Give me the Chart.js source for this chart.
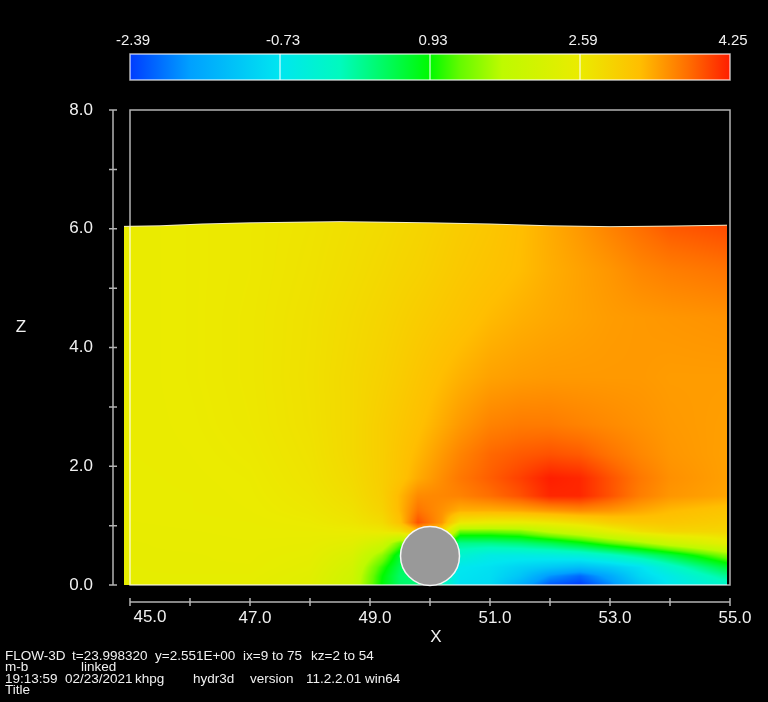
<!DOCTYPE html>
<html>
<head>
<meta charset="utf-8">
<title>FLOW-3D</title>
<script src="https://cdn.jsdelivr.net/npm/chart.js@4/dist/chart.umd.min.js"></script>
<style>
html, body { margin: 0; padding: 0; background: #000; }
canvas { display: block; }
</style>
</head>
<body>
<canvas id="myChart" width="768" height="702"></canvas>
<script>
// values
var colorbarLabels = [-2.39, -0.73, 0.93, 2.59, 4.25];

var surfaceX = [44.9, 45.5, 46.2, 47, 48.5, 50, 51, 52, 53, 54, 54.95];
var surfaceZ = [6.04, 6.05, 6.08, 6.10, 6.12, 6.10, 6.08, 6.05, 6.035, 6.045, 6.06];

var cylinderX = [50];
var cylinderZ = [0.49];

var gridX = [45, 46, 47, 48, 48.7, 49.2, 49.5, 49.8, 50.2, 50.5, 51, 51.5, 52, 52.5, 53, 53.5, 54, 55];
var gridZ = [0, 0.15, 0.3, 0.5, 0.7, 0.9, 1.05, 1.25, 1.5, 1.8, 2.2, 2.7, 3.5, 4.5, 5.3, 6.2];
var gridValues = [
  [2.48, 2.50, 2.48, 2.38, 2.00, 0.90, 0.40, 0.30, 0.00, -0.80, -0.90, -1.50, -2.20, -2.39, -1.90, -1.20, -0.70, -0.20],
  [2.50, 2.50, 2.50, 2.40, 2.05, 0.95, 0.40, 0.30, 0.00, -0.75, -0.85, -1.20, -1.80, -2.10, -1.60, -0.95, -0.60, 0.20],
  [2.50, 2.52, 2.52, 2.44, 2.12, 1.10, 0.50, 0.30, -0.30, -0.70, -0.80, -1.00, -1.15, -1.30, -1.10, -0.80, -0.25, 0.70],
  [2.52, 2.52, 2.53, 2.48, 2.25, 1.50, 0.70, 0.30, -0.30, -0.30, -0.55, -0.55, -0.50, -0.40, -0.15, 0.20, 0.60, 1.50],
  [2.52, 2.53, 2.54, 2.52, 2.42, 2.05, 1.30, 1.50, 1.50, 0.20, 0.20, 0.30, 0.50, 0.80, 1.20, 1.55, 1.95, 2.50],
  [2.53, 2.54, 2.55, 2.56, 2.58, 2.62, 2.75, 3.20, 3.00, 1.30, 1.30, 1.40, 1.80, 2.10, 2.45, 2.75, 2.90, 2.90],
  [2.54, 2.55, 2.56, 2.60, 2.68, 2.82, 3.20, 3.95, 3.50, 2.65, 2.55, 2.55, 2.65, 2.80, 3.00, 3.10, 3.12, 3.02],
  [2.55, 2.56, 2.58, 2.64, 2.74, 2.94, 3.30, 3.75, 3.55, 3.35, 3.35, 3.40, 3.50, 3.58, 3.52, 3.40, 3.28, 3.15],
  [2.55, 2.56, 2.59, 2.67, 2.80, 3.00, 3.30, 3.60, 3.62, 3.65, 3.78, 3.95, 4.20, 4.20, 3.95, 3.68, 3.52, 3.42],
  [2.55, 2.57, 2.60, 2.70, 2.84, 3.02, 3.18, 3.38, 3.58, 3.72, 3.88, 4.05, 4.25, 4.20, 3.95, 3.72, 3.56, 3.45],
  [2.56, 2.58, 2.62, 2.72, 2.87, 3.02, 3.16, 3.30, 3.50, 3.64, 3.82, 3.90, 3.95, 3.90, 3.75, 3.62, 3.52, 3.45],
  [2.56, 2.59, 2.64, 2.74, 2.87, 3.02, 3.12, 3.22, 3.38, 3.50, 3.65, 3.70, 3.70, 3.65, 3.60, 3.55, 3.50, 3.46],
  [2.56, 2.60, 2.65, 2.75, 2.87, 2.97, 3.05, 3.14, 3.26, 3.34, 3.44, 3.48, 3.50, 3.50, 3.50, 3.50, 3.48, 3.48],
  [2.56, 2.60, 2.65, 2.74, 2.84, 2.92, 2.98, 3.04, 3.12, 3.18, 3.28, 3.35, 3.40, 3.44, 3.48, 3.50, 3.52, 3.55],
  [2.56, 2.60, 2.64, 2.72, 2.80, 2.87, 2.92, 2.96, 3.04, 3.10, 3.18, 3.26, 3.36, 3.44, 3.52, 3.62, 3.68, 3.75],
  [2.56, 2.60, 2.64, 2.70, 2.77, 2.82, 2.87, 2.91, 2.98, 3.04, 3.12, 3.24, 3.38, 3.52, 3.68, 3.82, 3.96, 4.05]
];

var footerLines = [
  [[5, 656.5, 'FLOW-3D'], [72, 656.5, 't=23.998320'], [155, 656.5, 'y=2.551E+00'], [243, 656.5, 'ix=9 to 75'], [311, 656.5, 'kz=2 to 54']],
  [[5, 667.5, 'm-b'], [81, 667.5, 'linked']],
  [[5, 679, '19:13:59'], [65, 679, '02/23/2021'], [135, 679, 'khpg'], [193, 679, 'hydr3d'], [250, 679, 'version'], [306, 679, '11.2.2.01 win64']],
  [[5, 690, 'Title']]
];

// fraction along the colour bar, r, g, b
var colorStops = [
  [0, 0, 60, 255], [0.1, 0, 160, 255], [0.25, 0, 230, 240], [0.35, 0, 250, 190],
  [0.43, 0, 250, 90], [0.5, 0, 250, 0], [0.55, 100, 250, 0], [0.62, 190, 250, 0],
  [0.75, 235, 235, 0], [0.85, 255, 190, 0], [0.93, 255, 110, 0], [1, 255, 30, 0]
];

var vMin = colorbarLabels[0];
var vMax = colorbarLabels[colorbarLabels.length - 1];
var textColor = '#f0f0f0';
var lineColor = 'rgba(255,255,255,0.7)';

function colorFor(v) {
  var t = Math.max(0, Math.min(1, (v - vMin) / (vMax - vMin)));
  for (var i = 1; i < colorStops.length; i++) {
    if (t <= colorStops[i][0]) {
      var a = colorStops[i - 1], b = colorStops[i];
      var f = (t - a[0]) / (b[0] - a[0]);
      return [a[1] + (b[1] - a[1]) * f, a[2] + (b[2] - a[2]) * f, a[3] + (b[3] - a[3]) * f];
    }
  }
  return colorStops[colorStops.length - 1].slice(1);
}

function findCell(list, v) {
  var i = 0;
  while (i < list.length - 2 && v > list[i + 1]) i++;
  return i;
}

function surfaceAt(x) {
  var i = findCell(surfaceX, x);
  var f = (x - surfaceX[i]) / (surfaceX[i + 1] - surfaceX[i]);
  return surfaceZ[i] + (surfaceZ[i + 1] - surfaceZ[i]) * f;
}

function fieldAt(x, z) {
  var i = findCell(gridX, x), j = findCell(gridZ, z);
  var fx = Math.max(0, Math.min(1, (x - gridX[i]) / (gridX[i + 1] - gridX[i])));
  var fz = Math.max(0, Math.min(1, (z - gridZ[j]) / (gridZ[j + 1] - gridZ[j])));
  var low = gridValues[j][i] + (gridValues[j][i + 1] - gridValues[j][i]) * fx;
  var high = gridValues[j + 1][i] + (gridValues[j + 1][i + 1] - gridValues[j + 1][i]) * fx;
  return low + (high - low) * fz;
}

// contour field, frame, colour bar, axes and footer
var flowPlugin = {
  id: 'flowPlugin',
  beforeDatasetsDraw: function (chart) {
    var ctx = chart.ctx, xs = chart.scales.x, ys = chart.scales.y;
    var left = Math.round(xs.getPixelForValue(surfaceX[0]));
    var right = Math.round(xs.getPixelForValue(surfaceX[surfaceX.length - 1]));
    var top = Math.round(ys.getPixelForValue(6.3));
    var bottom = Math.round(ys.getPixelForValue(0));
    var w = right - left, h = bottom - top;
    var img = ctx.createImageData(w, h);
    for (var py = 0; py < h; py++) {
      var z = ys.getValueForPixel(top + py + 0.5);
      for (var px = 0; px < w; px++) {
        var x = xs.getValueForPixel(left + px + 0.5);
        if (z > surfaceAt(x)) continue;
        var c = colorFor(fieldAt(x, z));
        var k = (py * w + px) * 4;
        img.data[k] = c[0];
        img.data[k + 1] = c[1];
        img.data[k + 2] = c[2];
        img.data[k + 3] = 255;
      }
    }
    ctx.putImageData(img, left, top);

    ctx.save();
    ctx.strokeStyle = lineColor;
    ctx.lineWidth = 1.5;
    ctx.strokeRect(xs.left, ys.top, xs.width, ys.height);
    ctx.restore();
  },
  afterDraw: function (chart) {
    var ctx = chart.ctx, xs = chart.scales.x, ys = chart.scales.y;
    ctx.save();

    // colour bar
    var barTop = 54, barH = 26;
    var grad = ctx.createLinearGradient(xs.left, 0, xs.right, 0);
    colorStops.forEach(function (s) {
      grad.addColorStop(s[0], 'rgb(' + s[1] + ',' + s[2] + ',' + s[3] + ')');
    });
    ctx.fillStyle = grad;
    ctx.fillRect(xs.left, barTop, xs.width, barH);
    ctx.strokeStyle = lineColor;
    ctx.lineWidth = 1.5;
    ctx.strokeRect(xs.left, barTop, xs.width, barH);
    ctx.fillStyle = textColor;
    ctx.font = '15px "Liberation Sans"';
    ctx.textAlign = 'center';
    ctx.textBaseline = 'middle';
    colorbarLabels.forEach(function (v, i) {
      var bx = xs.left + xs.width * i / (colorbarLabels.length - 1);
      ctx.fillText(v.toFixed(2), bx + 3, 41);
      if (i > 0 && i < colorbarLabels.length - 1) {
        ctx.beginPath();
        ctx.moveTo(bx, barTop);
        ctx.lineTo(bx, barTop + barH);
        ctx.stroke();
      }
    });

    // axis lines sit away from the frame
    ctx.lineWidth = 1.5;
    var axisY = 602, axisX = 113;
    ctx.beginPath();
    ctx.moveTo(xs.left, axisY);
    ctx.lineTo(xs.right, axisY);
    xs.ticks.forEach(function (t) {
      var p = xs.getPixelForValue(t.value);
      ctx.moveTo(p, axisY - 4);
      ctx.lineTo(p, axisY + 4);
    });
    ctx.moveTo(axisX, ys.top);
    ctx.lineTo(axisX, ys.bottom);
    ys.ticks.forEach(function (t) {
      var p = ys.getPixelForValue(t.value);
      ctx.moveTo(axisX - 4, p);
      ctx.lineTo(axisX + 4, p);
    });
    ctx.stroke();

    // first x label sits further right than the others
    ctx.font = '17px "Liberation Sans"';
    ctx.fillText('45.0', xs.getPixelForValue(45) + 20, 617);

    // axis names
    ctx.fillText('X', 436, 637);
    ctx.fillText('Z', 21, 327);

    // footer
    ctx.font = '13.5px "Liberation Sans"';
    ctx.textAlign = 'left';
    footerLines.forEach(function (line) {
      line.forEach(function (part) {
        ctx.fillText(part[2], part[0], part[1]);
      });
    });
    ctx.restore();
  }
};

var surfaceData = surfaceX.map(function (x, i) { return { x: x, y: surfaceZ[i] }; });
var cylinderData = cylinderX.map(function (x, i) { return { x: x, y: cylinderZ[i] }; });

var myChart = new Chart(document.getElementById('myChart'), {
  type: 'scatter',
  data: {
    datasets: [{
      data: surfaceData,
      showLine: true,
      borderColor: '#f2ecc8',
      borderWidth: 1,
      pointRadius: 0,
      clip: false
    }, {
      data: cylinderData,
      pointRadius: 29.5,
      pointBackgroundColor: '#999999',
      pointBorderColor: '#f4f4f4',
      pointBorderWidth: 1.5,
      clip: false
    }]
  },
  options: {
    responsive: false,
    animation: false,
    events: [],
    layout: { padding: { top: 110, right: 38, left: 0, bottom: 0 } },
    plugins: { legend: { display: false }, tooltip: { enabled: false } },
    scales: {
      x: {
        type: 'linear',
        min: 45,
        max: 55,
        afterFit: function (scale) { scale.height = 117; },
        grid: { display: false },
        border: { display: false },
        ticks: {
          stepSize: 1,
          autoSkip: false,
          maxRotation: 0,
          padding: 15,
          labelOffset: 5,
          color: textColor,
          font: { family: '"Liberation Sans"', size: 17 },
          callback: function (v) {
            return (v % 2 === 1 && v !== 45) ? v.toFixed(1) : '';
          }
        }
      },
      y: {
        type: 'linear',
        min: 0,
        max: 8,
        afterFit: function (scale) { scale.width = 130; },
        grid: { display: false },
        border: { display: false },
        ticks: {
          stepSize: 1,
          autoSkip: false,
          padding: 29,
          color: textColor,
          font: { family: '"Liberation Sans"', size: 17 },
          callback: function (v) {
            return v % 2 === 0 ? v.toFixed(1) : '';
          }
        }
      }
    }
  },
  plugins: [flowPlugin]
});
</script>
</body>
</html>
